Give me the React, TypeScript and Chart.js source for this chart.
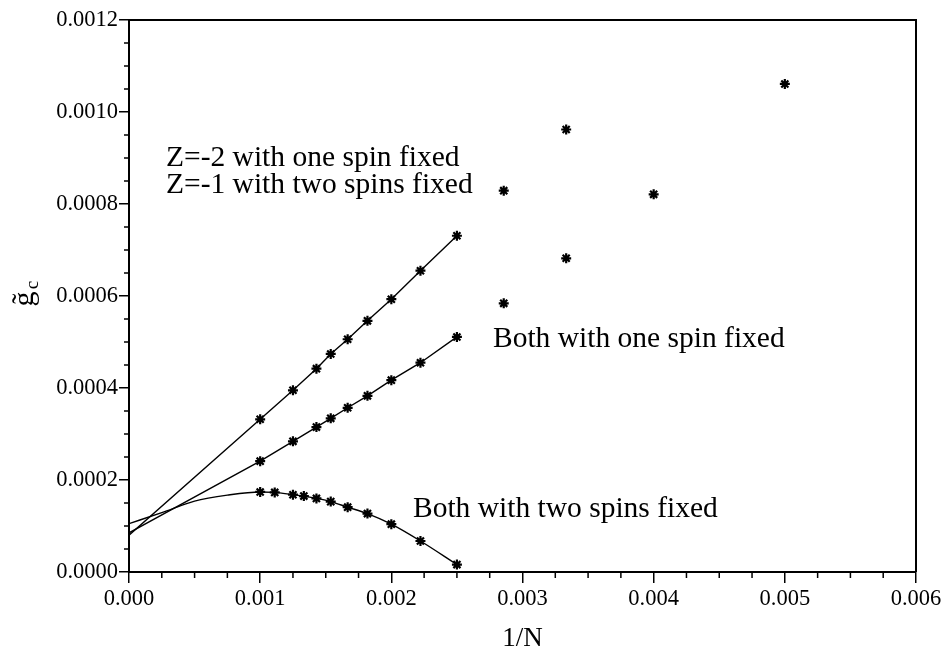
import React, { useEffect, useRef } from "react";
import { Chart, registerables } from "chart.js";

Chart.register(...registerables);

// 1/N positions of the fitted series
const xFit = [0.001, 0.00125, 0.001429, 0.001538, 0.001667, 0.001818, 0.002, 0.002222, 0.0025];
// "Z=-2 with one spin fixed"
const zMinus2Values = [0.000332, 0.000395, 0.000442, 0.000474, 0.000506, 0.000546, 0.000593, 0.000655, 0.000731];
const zMinus2Intercept = 0.00008;
// "Both with one spin fixed"
const oneSpinValues = [0.000241, 0.000284, 0.000315, 0.000334, 0.000357, 0.000383, 0.000417, 0.000455, 0.000511];
const oneSpinIntercept = 0.000085;
// "Both with two spins fixed"
const twoSpinX = [0.001, 0.001111, 0.00125, 0.001333, 0.001429, 0.001538, 0.001667, 0.001818, 0.002, 0.002222, 0.0025];
const twoSpinValues = [0.000174, 0.000173, 0.000168, 0.000165, 0.00016, 0.000153, 0.000141, 0.000127, 0.000104, 0.0000674, 0.0000161];
const twoSpinCurveX = [0, 0.00025, 0.0005, 0.00075];
const twoSpinCurveValues = [0.000105, 0.000129, 0.000154, 0.000167];
// isolated points (small N)
const upperIsolatedX = [0.002857, 0.003333];
const upperIsolatedValues = [0.000829, 0.000962];
const lowerIsolatedX = [0.002857, 0.003333, 0.004, 0.005];
const lowerIsolatedValues = [0.000584, 0.000682, 0.000821, 0.001061];

const annotationTexts = [
  "Z=-2 with one spin fixed",
  "Z=-1 with two spins fixed",
  "Both with one spin fixed",
  "Both with two spins fixed",
];
const xTitle = "1/N";
const yTitleMain = "g\u0303";
const yTitleSub = "c";

const SERIF = '"Liberation Serif", "Times New Roman", serif';

const pts = (xs: number[], ys: number[]) => xs.map((x, i) => ({ x, y: ys[i] }));

const lineStyle = {
  showLine: true,
  pointRadius: 0,
  borderColor: "#000",
  backgroundColor: "#000",
  borderWidth: 1.4,
  fill: false,
};
const markerStyle = {
  showLine: false,
  pointStyle: "star" as const,
  pointRadius: 5,
  pointBorderWidth: 2.2,
  borderColor: "#000",
  backgroundColor: "#000",
  pointBorderColor: "#000",
};

const decorPlugin = {
  id: "decor",
  afterDraw(chart: any) {
    const { ctx, chartArea: ca } = chart;
    const xs = chart.scales.x;
    const ys = chart.scales.y;
    ctx.save();
    ctx.strokeStyle = "#000";
    // frame top & right
    ctx.lineWidth = 2;
    ctx.beginPath();
    ctx.moveTo(ca.left, ca.top);
    ctx.lineTo(ca.right, ca.top);
    ctx.lineTo(ca.right, ca.bottom);
    ctx.stroke();
    // minor ticks
    ctx.lineWidth = 1.5;
    ctx.beginPath();
    for (let i = 1; i < 24; i++) {
      if (i % 4 === 0) continue;
      const px = xs.getPixelForValue(i * 0.00025);
      ctx.moveTo(px, ca.bottom);
      ctx.lineTo(px, ca.bottom + 6);
    }
    for (let i = 1; i < 24; i++) {
      if (i % 4 === 0) continue;
      const py = ys.getPixelForValue(i * 0.00005);
      ctx.moveTo(ca.left - 5, py);
      ctx.lineTo(ca.left, py);
    }
    ctx.stroke();
    // annotations
    ctx.fillStyle = "#000";
    ctx.font = `29.5px ${SERIF}`;
    ctx.textAlign = "left";
    ctx.textBaseline = "alphabetic";
    ctx.fillText(annotationTexts[0], 166, 166);
    ctx.fillText(annotationTexts[1], 166, 193);
    ctx.fillText(annotationTexts[2], 493, 347);
    ctx.fillText(annotationTexts[3], 413, 517);
    // x title
    ctx.font = `27px ${SERIF}`;
    ctx.textAlign = "center";
    ctx.fillText(xTitle, (ca.left + ca.right) / 2, 646);
    // y title (rotated)
    ctx.translate(33, (ca.top + ca.bottom) / 2);
    ctx.rotate(-Math.PI / 2);
    ctx.font = `30px ${SERIF}`;
    ctx.textAlign = "center";
    ctx.fillText(yTitleMain, -3, 0);
    ctx.font = `19px ${SERIF}`;
    ctx.fillText(yTitleSub, 11, 5);
    ctx.restore();
  },
};

export default function App() {
  const ref = useRef<HTMLCanvasElement | null>(null);
  useEffect(() => {
    if (!ref.current) return;
    const chart = new Chart(ref.current, {
      type: "scatter",
      data: {
        datasets: [
          { ...lineStyle, data: [{ x: 0, y: zMinus2Intercept }, ...pts(xFit, zMinus2Values)] } as any,
          { ...lineStyle, data: [{ x: 0, y: oneSpinIntercept }, ...pts(xFit, oneSpinValues)] } as any,
          {
            ...lineStyle,
            cubicInterpolationMode: "monotone",
            data: [...pts(twoSpinCurveX, twoSpinCurveValues), ...pts(twoSpinX, twoSpinValues)],
          } as any,
          { ...markerStyle, data: pts(xFit, zMinus2Values) } as any,
          { ...markerStyle, data: pts(xFit, oneSpinValues) } as any,
          { ...markerStyle, data: pts(twoSpinX, twoSpinValues) } as any,
          { ...markerStyle, data: pts(upperIsolatedX, upperIsolatedValues) } as any,
          { ...markerStyle, data: pts(lowerIsolatedX, lowerIsolatedValues) } as any,
        ],
      },
      options: {
        animation: false,
        responsive: false,
        maintainAspectRatio: false,
        layout: { padding: { top: 20, right: 31, left: 0, bottom: 0 } },
        plugins: { legend: { display: false }, tooltip: { enabled: false } },
        scales: {
          x: {
            type: "linear",
            min: 0,
            max: 0.006,
            ticks: {
              stepSize: 0.001,
              callback: (v: any) => Number(v).toFixed(3),
              font: { family: SERIF, size: 22.5 },
              color: "#000",
              padding: 3,
              maxRotation: 0,
            },
            grid: { drawOnChartArea: false, drawTicks: true, tickLength: 11, color: "#000", lineWidth: 1.5 },
            border: { display: true, color: "#000", width: 2 },
            afterFit: (s: any) => {
              s.height = 78;
            },
          },
          y: {
            type: "linear",
            min: 0,
            max: 0.0012,
            ticks: {
              stepSize: 0.0002,
              callback: (v: any) => Number(v).toFixed(4),
              font: { family: SERIF, size: 22.5 },
              color: "#000",
              padding: 1,
            },
            grid: { drawOnChartArea: false, drawTicks: true, tickLength: 10, color: "#000", lineWidth: 1.5 },
            border: { display: true, color: "#000", width: 2 },
            afterFit: (s: any) => {
              s.width = 129;
            },
          },
        },
      } as any,
      plugins: [decorPlugin],
    });
    return () => chart.destroy();
  }, []);
  return (
    <div style={{ position: "fixed", left: 0, top: 0, width: 947, height: 650, background: "#fff" }}>
      <canvas ref={ref} width={947} height={650} style={{ display: "block" }} />
    </div>
  );
}
